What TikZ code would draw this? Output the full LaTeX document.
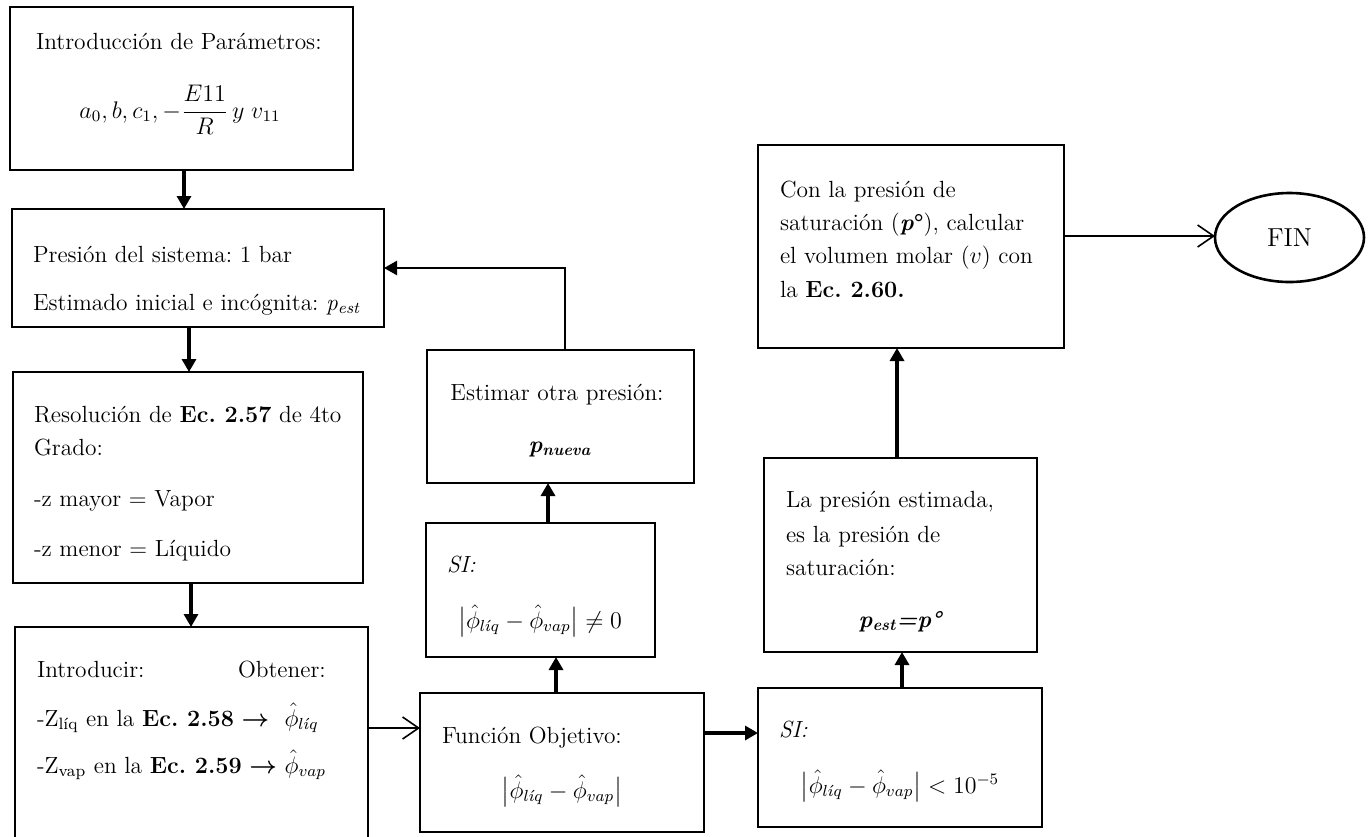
\documentclass[tikz,border=0pt]{standalone}
\usepackage{amsmath}
\usetikzlibrary{arrows.meta,shapes.geometric}
\frenchspacing
\begin{document}
\begin{tikzpicture}[x=0.5pt,y=-0.5pt,
  bx/.style 2 args={draw, line width=1.3pt, minimum width=#1*0.5pt, minimum height=#2*0.5pt, inner sep=0pt, outer sep=0pt},
  txt/.style={inner sep=0pt, outer sep=0pt, font=\fontsize{11.7}{17}\selectfont},
  thk/.style={line width=1.6pt, -{Triangle[length=6.5pt,width=7pt]}},
  med/.style={line width=1.2pt, -{Triangle[length=6.5pt,width=7pt]}},
  thn/.style={line width=0.8pt, -{Straight Barb[length=8pt,width=11pt,line width=0.8pt]}}]
\useasboundingbox (0,0) rectangle (1368,836);
% boxes
\node[bx={343}{163}] (b1) at (181.5,88.5) {};
\node[bx={372}{118}] (b2) at (198,268) {};
\node[bx={350}{211}] (b3) at (188,477.5) {};
\node[bx={353}{223}] (b4) at (191.5,738.5) {};
\node[bx={284}{139}] (b5) at (562,762.5) {};
\node[bx={229}{134}] (bs1) at (540.5,590) {};
\node[bx={267}{133}] (best) at (560.5,416.5) {};
\node[bx={284}{139}] (bs2) at (900,757.5) {};
\node[bx={273}{194}] (bla) at (900.5,555) {};
\node[bx={306}{203}] (bcon) at (911,246.5) {};
\node[draw, line width=1.3pt, ellipse, minimum width=149*0.5pt, minimum height=89*0.5pt, inner sep=0pt, outer sep=0pt, font=\fontsize{13}{16}\selectfont] (fin) at (1289.5,237.5) {FIN};
% texts box1
\node[txt, anchor=base west] (t1a) at (36,49) {Introducción de Parámetros:};
\node[txt, anchor=base] (t1b) at (180,118) {$a_0, b, c_1, -\dfrac{E11}{R}\,y\;v_{11}$};
% box2
\node[txt, anchor=base west] (t2a) at (33,262) {Presión del sistema: 1 bar};
\node[txt, anchor=base west] (t2b) at (33,310) {Estimado inicial e incógnita: \textit{p\textsubscript{est}}};
% box3
\node[txt, anchor=base west] (t3a) at (34,422) {Resolución de \textbf{Ec. 2.57} de 4to};
\node[txt, anchor=base west] (t3b) at (34,455) {Grado:};
\node[txt, anchor=base west] (t3c) at (34,506) {-z mayor = Vapor};
\node[txt, anchor=base west] (t3d) at (34,556) {-z menor = Líquido};
% box4
\node[txt, anchor=base west] (t4a) at (37,677) {Introducir:};
\node[txt, anchor=base west] (t4b) at (238,677) {Obtener:};
\node[txt, anchor=base west] (t4c) at (37,726) {-Z\textsubscript{líq} en la \textbf{Ec. 2.58} $\boldsymbol{\rightarrow}$\ \ $\hat{\phi}_{l\acute{\imath}q}$};
\node[txt, anchor=base west] (t4d) at (37,773) {-Z\textsubscript{vap} en la \textbf{Ec. 2.59} $\boldsymbol{\rightarrow}$ $\hat{\phi}_{vap}$};
% box5
\node[txt, anchor=base west] (t5a) at (442,743) {Función Objetivo:};
\node[txt, anchor=base] (t5b) at (562,798) {$\bigl|\hat{\phi}_{l\acute{\imath}q}-\hat{\phi}_{vap}\bigr|$};
% SI 1
\node[txt, anchor=base west] (ts1a) at (447,572) {\textit{SI:}};
\node[txt, anchor=base] (ts1b) at (540,628) {$\bigl|\hat{\phi}_{l\acute{\imath}q}-\hat{\phi}_{vap}\bigr|\neq 0$};
% estimar
\node[txt, anchor=base] (tea) at (557,400) {Estimar otra presión:};
\node[txt, anchor=base] (teb) at (560,452) {\textbf{\textit{p\textsubscript{nueva}}}};
% SI 2
\node[txt, anchor=base west] (ts2a) at (779,737) {\textit{SI:}};
\node[txt, anchor=base] (ts2b) at (900,793) {$\bigl|\hat{\phi}_{l\acute{\imath}q}-\hat{\phi}_{vap}\bigr|<10^{-5}$};
% La presion
\node[txt, anchor=base west] (tla) at (786,507) {La presión estimada,};
\node[txt, anchor=base west] (tlb) at (786,542) {es la presión de};
\node[txt, anchor=base west] (tlc) at (786,575) {saturación:};
\node[txt, anchor=base] (tld) at (901,627) {\textbf{\textit{p\textsubscript{est}=p°}}};
% Con la presion
\node[txt, anchor=base west] (tca) at (780,197) {Con la presión de};
\node[txt, anchor=base west] (tcb) at (780,230) {saturación (\textbf{\textit{p}°}), calcular};
\node[txt, anchor=base west] (tcc) at (780,263) {el volumen molar ($v$) con};
\node[txt, anchor=base west] (tcd) at (780,297) {la \textbf{Ec. 2.60.}};
% connector coordinates
\coordinate (x1) at (184,0);
\coordinate (x2) at (189,0);
\coordinate (x3) at (191,0);
\coordinate (x5) at (556,0);
\coordinate (x6) at (548,0);
\coordinate (x7) at (565,0);
\coordinate (x9) at (902,0);
\coordinate (x10) at (897,0);
\coordinate (y4) at (0,728);
\coordinate (y8) at (0,733);
\coordinate (y11) at (0,236);
% connectors
\draw[thk] (b1.south -| x1) -- (b2.north -| x1);
\draw[thk] (b2.south -| x2) -- (b3.north -| x2);
\draw[thk] (b3.south -| x3) -- (b4.north -| x3);
\draw[thn] (b4.east |- y4) -- (b5.west |- y4);
\draw[thk] (b5.north -| x5) -- (bs1.south -| x5);
\draw[thk] (bs1.north -| x6) -- (best.south -| x6);
\draw[med] (best.north -| x7) |- (b2.east);
\draw[thk] (b5.east |- y8) -- (bs2.west |- y8);
\draw[thk] (bs2.north -| x9) -- (bla.south -| x9);
\draw[thk] (bla.north -| x10) -- (bcon.south -| x10);
\draw[thn] (bcon.east |- y11) -- (fin.west |- y11);
\end{tikzpicture}
\end{document}
